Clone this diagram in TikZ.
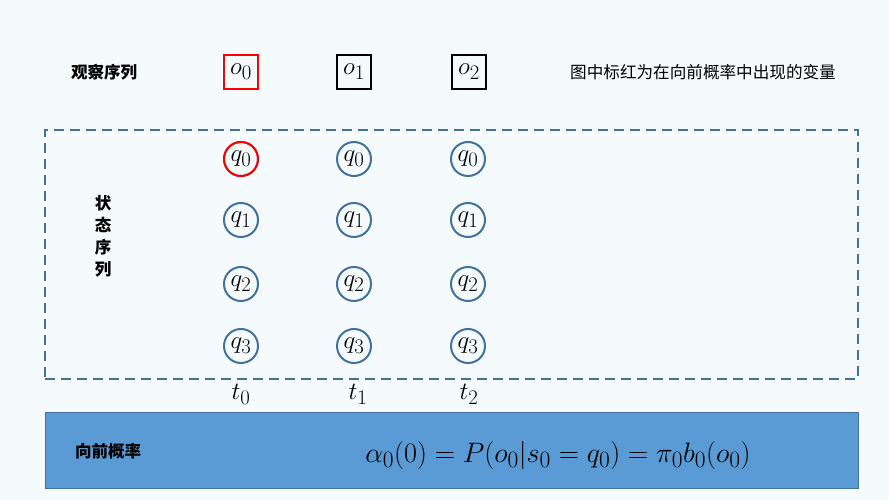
\documentclass[tikz,border=0pt]{standalone}
\usepackage{fontspec}
\newfontfamily\cjk{Noto Sans CJK SC}
\begin{document}
\begin{tikzpicture}[x=1pt,y=-1pt,
  obsbox/.style={draw=black,line width=2.2pt,minimum width=34pt,minimum height=34pt,inner sep=0pt,font=\fontsize{24.88}{26}\selectfont},
  statec/.style={circle,draw=stblue,line width=2pt,minimum size=34pt,inner sep=0pt,font=\fontsize{24.88}{26}\selectfont},
  lbl/.style={font=\cjk\bfseries\fontsize{16.5}{18}\selectfont},
  tlbl/.style={font=\fontsize{24.88}{26}\selectfont}]
\definecolor{stblue}{HTML}{41719C}
\definecolor{barblue}{HTML}{5B9BD5}
\definecolor{bgc}{HTML}{F5FBFD}
\useasboundingbox[fill=bgc] (0,0) rectangle (889,500);
% top row
\node[lbl] (obs) at (104,72) {观察序列};
\node[obsbox,draw=red] (o0) at (241,72) {$o_0$};
\node[obsbox] (o1) at (354,72) {$o_1$};
\node[obsbox] (o2) at (469,72) {$o_2$};
\node[font=\cjk\fontsize{16.6}{18}\selectfont] (note) at (703,72) {图中标红为在向前概率中出现的变量};
% dashed frame
\node[draw=stblue,dash pattern=on 10pt off 6pt,line width=2pt,minimum width=813pt,minimum height=249pt,inner sep=0pt] (frame) at (451.5,254.5) {};
\node[align=center,text width=18pt,font=\cjk\bfseries\fontsize{16.5}{22}\selectfont] (state) at (103,236) {状\\态\\序\\列};
% states
\foreach \c/\x in {0/241,1/354,2/468}{
  \node[statec] (q0\c) at (\x,159) {$q_0$};
  \node[statec] (q1\c) at (\x,220) {$q_1$};
  \node[statec] (q2\c) at (\x,284) {$q_2$};
  \node[statec] (q3\c) at (\x,346) {$q_3$};
}
\node[statec,draw=red] at (q00) {};
\node[tlbl] (t0) at (241,394) {$t_0$};
\node[tlbl] (t1) at (358,394) {$t_1$};
\node[tlbl] (t2) at (469,394) {$t_2$};
% bottom bar
\node[fill=barblue,draw=stblue,line width=0.8pt,minimum width=813pt,minimum height=76pt,inner sep=0pt] (bar) at (451.5,450) {};
\node[lbl] (fwd) at (108,451) {向前概率};
\node[font=\fontsize{24.88}{26}\selectfont] (formula) at (558,455) {\scalebox{1.13}{$\alpha_0(0)=P(o_0|s_0=q_0)=\pi_0 b_0(o_0)$}};
\end{tikzpicture}
\end{document}
